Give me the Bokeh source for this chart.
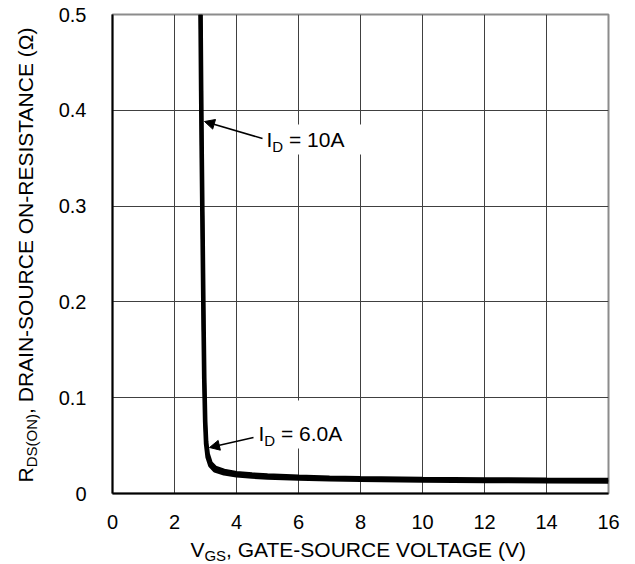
import math
from bokeh.plotting import figure
from bokeh.layouts import row, column
from bokeh.models import (FixedTicker, Label, Arrow, NormalHead, BoxAnnotation,
                          NumeralTickFormatter, Range1d)
from bokeh.embed import file_html
from bokeh.resources import INLINE

# ---------------- data ----------------
X_TICKS = [0, 2, 4, 6, 8, 10, 12, 14, 16]
Y_TICKS = [0, 0.1, 0.2, 0.3, 0.4, 0.5]

vgs_10a = [2.85, 2.87, 2.89, 2.91, 2.93, 2.95, 2.97, 3.00, 3.03, 3.08, 3.17, 3.32,
           3.60, 4.00, 4.50, 5.00, 6.00, 7.00, 8.00, 10.0, 12.0, 14.0, 16.0]
rds_10a = [0.50, 0.42, 0.35, 0.29, 0.23, 0.17, 0.12, 0.075, 0.054, 0.041, 0.032, 0.027,
           0.0238, 0.0215, 0.0200, 0.0190, 0.0177, 0.0168, 0.0162, 0.0155, 0.0150, 0.0146, 0.0143]

vgs_6a = [2.83, 2.85, 2.87, 2.89, 2.91, 2.93, 2.95, 2.98, 3.01, 3.06, 3.15, 3.30,
          3.60, 4.00, 4.50, 5.00, 6.00, 7.00, 8.00, 10.0, 12.0, 14.0, 16.0]
rds_6a = [0.50, 0.42, 0.35, 0.29, 0.23, 0.17, 0.12, 0.075, 0.052, 0.038, 0.029, 0.024,
          0.0208, 0.0187, 0.0174, 0.0164, 0.0153, 0.0145, 0.0140, 0.0134, 0.0129, 0.0126, 0.0123]

X_TITLE = ("V", "GS", ", GATE-SOURCE VOLTAGE (V)")
Y_TITLE = ("R", "DS(ON)", ", DRAIN-SOURCE ON-RESISTANCE (\u03a9)")
NOTE_10A = ("I", "D", "= 10A")
NOTE_6A = ("I", "D", "= 6.0A")

# ---------------- layout (canvas pixels) ----------------
W, H = 635, 564
LW = 50          # left strip holding the y title
BH = 28          # bottom strip holding the x title
FL, FR, FT, FB = 112, 608, 14, 493   # plot frame in canvas pixels
XMAX, YMAX = 16, 0.5
FONT = "Liberation Sans"
BASE = 0.4       # empirical baseline correction (fraction of font size)

def dx(px):
    return (px - FL) / (FR - FL) * XMAX

def dy(py):
    return (FB - py) / (FB - FT) * YMAX

# Arial / Liberation Sans advance widths (per 1000 em)
AW = {" ": 278, ",": 278, "-": 333, "(": 333, ")": 333, "=": 584, ".": 278,
      "0": 556, "1": 556, "6": 556, "A": 667, "C": 722, "D": 722, "E": 667,
      "G": 778, "I": 278, "L": 556, "N": 722, "O": 778, "R": 722, "S": 667,
      "T": 611, "U": 722, "V": 667, "\u03a9": 768}

def tw(s, size):
    return sum(AW.get(c, 600) for c in s) * size / 1000.0

# ---------------- main plot ----------------
p = figure(width=W - LW, height=H - BH, x_range=Range1d(0, XMAX), y_range=Range1d(0, YMAX),
           output_backend="svg", toolbar_location=None,
           min_border_left=FL - LW, min_border_right=W - FR,
           min_border_top=FT, min_border_bottom=(H - BH) - FB)
p.background_fill_color = "white"
p.border_fill_color = "white"
p.outline_line_color = "#8c8c8c"
p.outline_line_width = 2

for ax in (p.xaxis[0], p.yaxis[0]):
    ax.axis_line_color = "black"
    ax.axis_line_width = 2
    ax.major_tick_line_color = None
    ax.minor_tick_line_color = None
    ax.major_label_text_font = FONT
    ax.major_label_text_font_size = "20px"
    ax.major_label_text_color = "black"
p.xaxis.ticker = FixedTicker(ticks=X_TICKS)
p.yaxis.ticker = FixedTicker(ticks=Y_TICKS)
p.yaxis.formatter = NumeralTickFormatter(format="0.[0]")
p.xaxis.major_label_standoff = 15
p.yaxis.major_label_standoff = 20

p.xgrid.ticker = FixedTicker(ticks=X_TICKS)
p.ygrid.ticker = FixedTicker(ticks=Y_TICKS)
for g in (p.xgrid[0], p.ygrid[0]):
    g.grid_line_color = "#404040"
    g.grid_line_width = 1

# white boxes behind the annotation texts
p.add_layout(BoxAnnotation(left=dx(250), right=dx(366), top=dy(124), bottom=dy(154),
                           fill_color="white", fill_alpha=1, line_color=None, level="glyph"))
p.add_layout(BoxAnnotation(left=dx(250), right=dx(350), top=dy(400), bottom=dy(448),
                           fill_color="white", fill_alpha=1, line_color=None, level="glyph"))

# curves
p.line(vgs_6a, rds_6a, line_color="black", line_width=4)
p.line(vgs_10a, rds_10a, line_color="black", line_width=4)

def add_label(fig, x, y, text, size, angle=0.0):
    fig.add_layout(Label(x=x, y=y, text=text, text_font=FONT,
                         text_font_size=f"{size}px", text_color="black",
                         text_align="left", text_baseline="alphabetic", angle=angle))

def hlabel(fig, px, py, text, size, fx, fy):
    # px, py: wanted left/baseline point in canvas pixels
    add_label(fig, fx(px), fy(py - BASE * size), text, size)

def id_label(px, py, parts):
    main, sub, rest = parts
    hlabel(p, px, py, main, 21, dx, dy)
    x2 = px + tw(main, 21)
    hlabel(p, x2, py + 5, sub, 15, dx, dy)
    x3 = x2 + tw(sub, 15) + tw(" ", 21)
    hlabel(p, x3, py, rest, 21, dx, dy)

id_label(266, 147, NOTE_10A)
id_label(258, 441, NOTE_6A)

p.add_layout(Arrow(end=NormalHead(size=10, fill_color="black", line_color="black"),
                   x_start=dx(262), y_start=dy(138), x_end=dx(204), y_end=dy(121),
                   line_color="black", line_width=1.5))
p.add_layout(Arrow(end=NormalHead(size=10, fill_color="black", line_color="black"),
                   x_start=dx(253), y_start=dy(437), x_end=dx(209), y_end=dy(447),
                   line_color="black", line_width=1.5))

# ---------------- title strips ----------------
def strip(width, height, xr, yr):
    f = figure(width=width, height=height, output_backend="svg", toolbar_location=None,
               x_range=xr, y_range=yr,
               min_border=0, x_axis_location=None, y_axis_location=None)
    f.grid.visible = False
    f.outline_line_color = None
    f.background_fill_color = "white"
    f.border_fill_color = "white"
    return f

# x title: strip in canvas pixel units
bottom = strip(W, BH, Range1d(0, W), Range1d(H, H - BH))
ident = lambda v: v
xm, xs_, xr = X_TITLE
xw = tw(xm, 21) + tw(xs_, 15) + tw(xr, 21)
bx0 = (FL + FR) / 2 - xw / 2
bx1 = bx0 + tw(xm, 21)
bx2 = bx1 + tw(xs_, 15)
hlabel(bottom, bx0, 557, xm, 21, ident, ident)
hlabel(bottom, bx1, 561, xs_, 15, ident, ident)
hlabel(bottom, bx2, 557, xr, 21, ident, ident)

# y title (rotated); its frame is aligned with the main frame vertically
left = strip(LW, H - BH, Range1d(0, LW), Range1d(0, YMAX))
ym, ys_, yr = Y_TITLE
yw = tw(ym, 21) + tw(ys_, 15) + tw(yr, 21)
ly0 = (FT + FB) / 2 + yw / 2
ly1 = ly0 - tw(ym, 21)
ly2 = ly1 - tw(ys_, 15)
add_label(left, 33 - BASE * 21, dy(ly0), ym, 21, math.pi / 2)
add_label(left, 37 - BASE * 15, dy(ly1), ys_, 15, math.pi / 2)
add_label(left, 33 - BASE * 21, dy(ly2), yr, 21, math.pi / 2)

layout = column(row(left, p), bottom)
open("out.html", "w").write(file_html(layout, INLINE))
